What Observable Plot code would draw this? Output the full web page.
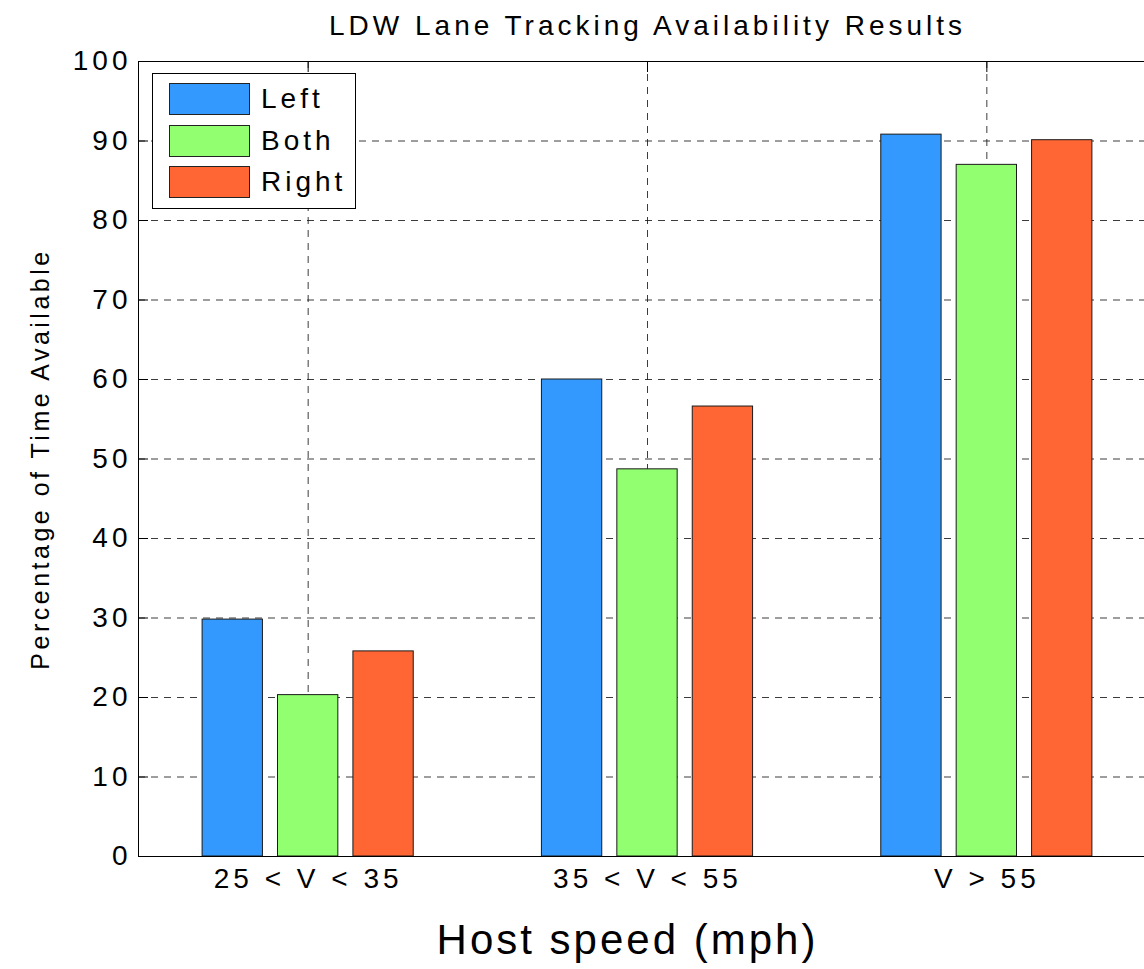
<!DOCTYPE html>
<html>
<head>
<meta charset="utf-8">
<script src="https://cdn.jsdelivr.net/npm/d3@7"></script>
<script src="https://cdn.jsdelivr.net/npm/@observablehq/plot@0.6"></script>
<style>
html, body { margin: 0; padding: 0; overflow: hidden; background: #fff; }
#wrap { position: relative; width: 1144px; height: 969px; overflow: hidden; }
#chart svg { max-width: none !important; }
#chart svg text { letter-spacing: 4px; }
.legend { position: absolute; left: 152px; top: 73px; width: 204px; height: 136px; box-sizing: border-box;
  border: 1px solid #000; background: #fff; font-family: "Liberation Sans", Arial, Helvetica, sans-serif;
  font-size: 28px; letter-spacing: 4px; color: #000; }
.legend .sw { position: absolute; left: 16px; width: 81px; height: 32px; box-sizing: border-box; border: 1px solid #222; }
.legend .lb { position: absolute; left: 108px; height: 32px; line-height: 32px; }
</style>
</head>
<body>
<div id="wrap"><div id="chart"></div></div>
<script>
// ---- data ----
const titleText = "LDW Lane Tracking Availability Results";
const xLabel = "Host speed (mph)";
const yLabel = "Percentage of Time Available";
const categories = ["25 < V < 35", "35 < V < 55", "V > 55"];
const series = ["Left", "Both", "Right"];
const leftValues = [29.8, 60.0, 90.8];
const bothValues = [20.3, 48.7, 87.0];
const rightValues = [25.8, 56.6, 90.1];
const colors = ["#3399ff", "#91ff6f", "#ff6633"];
const yTicks = [0, 10, 20, 30, 40, 50, 60, 70, 80, 90, 100];

const valuesBySeries = { Left: leftValues, Both: bothValues, Right: rightValues };
const catIdx = categories.map((c, i) => i + 1);
const n = series.length;
const groupWidth = Math.min(0.8, n / (n + 1.5));
const step = groupWidth / n;
const barW = step * 0.8;

const data = categories.flatMap((c, i) => series.map((s, j) => ({
  cat: c, ci: i + 1, series: s, sj: j, value: valuesBySeries[s][i]
})));
const xc = d => d.ci + (d.sj - (n - 1) / 2) * step;

const grid = { stroke: "#1a1a1a", strokeOpacity: 0.85, strokeDasharray: "7,6", strokeWidth: 1 };

const chart = Plot.plot({
  width: 1170, height: 969,
  marginLeft: 138, marginRight: 14, marginTop: 61, marginBottom: 113,
  x: { domain: [0.5, categories.length + 0.5] },
  y: { domain: [0, 100] },
  color: { domain: series, range: colors },
  style: { fontFamily: "'Liberation Sans', Arial, Helvetica, sans-serif", fontSize: "28px", color: "#000", background: "#fff", overflow: "visible", maxWidth: "none" },
  marks: [
    Plot.ruleY(yTicks.slice(1, -1), grid),
    Plot.ruleX(catIdx, grid),
    Plot.axisY({ anchor: "left", ticks: yTicks, tickSize: 10, dx: 10, tickFormat: () => "", label: null }),
    Plot.axisY({ anchor: "right", ticks: yTicks, tickSize: 10, dx: -10, tickFormat: () => "", label: null }),
    Plot.axisX({ anchor: "top", ticks: catIdx, tickSize: 10, dy: 10, tickFormat: () => "", label: null }),
    Plot.axisX({ anchor: "bottom", ticks: catIdx, tickSize: 10, dy: -10, tickFormat: () => "", label: null }),
    Plot.rectY(data, {
      x1: d => xc(d) - barW / 2, x2: d => xc(d) + barW / 2,
      y1: 0, y2: "value", fill: "series", stroke: "#1a1a1a", strokeWidth: 1
    }),
    Plot.frame({ stroke: "#000", strokeWidth: 1 }),
    Plot.axisY({ anchor: "left", ticks: yTicks, tickSize: 0, tickPadding: 7, label: null }),
    Plot.axisX({ anchor: "bottom", ticks: catIdx, tickSize: 0, tickPadding: 12, tickFormat: i => categories[i - 1], label: null }),
    Plot.text([titleText], { text: d => d, frameAnchor: "top", textAnchor: "middle", dy: -35, lineAnchor: "middle", fontSize: 28 }),
    Plot.text([xLabel], { text: d => d, frameAnchor: "bottom", textAnchor: "middle", dx: -20, dy: 84, lineAnchor: "middle", fontSize: 42 }),
    Plot.text([yLabel], { text: d => d, frameAnchor: "left", textAnchor: "middle", dx: -98, rotate: -90, lineAnchor: "middle", fontSize: 25 })
  ]
});
document.getElementById("chart").appendChild(chart);
d3.select(chart).selectAll("text")
  .filter(function () { return this.textContent === xLabel; })
  .style("letter-spacing", "3px");
d3.select(chart).selectAll("text")
  .filter(function () { return this.textContent === yLabel; })
  .style("letter-spacing", "3.5px");

// legend
const legend = document.createElement("div");
legend.className = "legend";
const tops = [9, 51, 92];
series.forEach((s, j) => {
  const sw = document.createElement("div");
  sw.className = "sw";
  sw.style.top = tops[j] + "px";
  sw.style.background = colors[j];
  legend.appendChild(sw);
  const lb = document.createElement("div");
  lb.className = "lb";
  lb.style.top = tops[j] + "px";
  lb.textContent = s;
  legend.appendChild(lb);
});
document.getElementById("wrap").appendChild(legend);
</script>
</body>
</html>
